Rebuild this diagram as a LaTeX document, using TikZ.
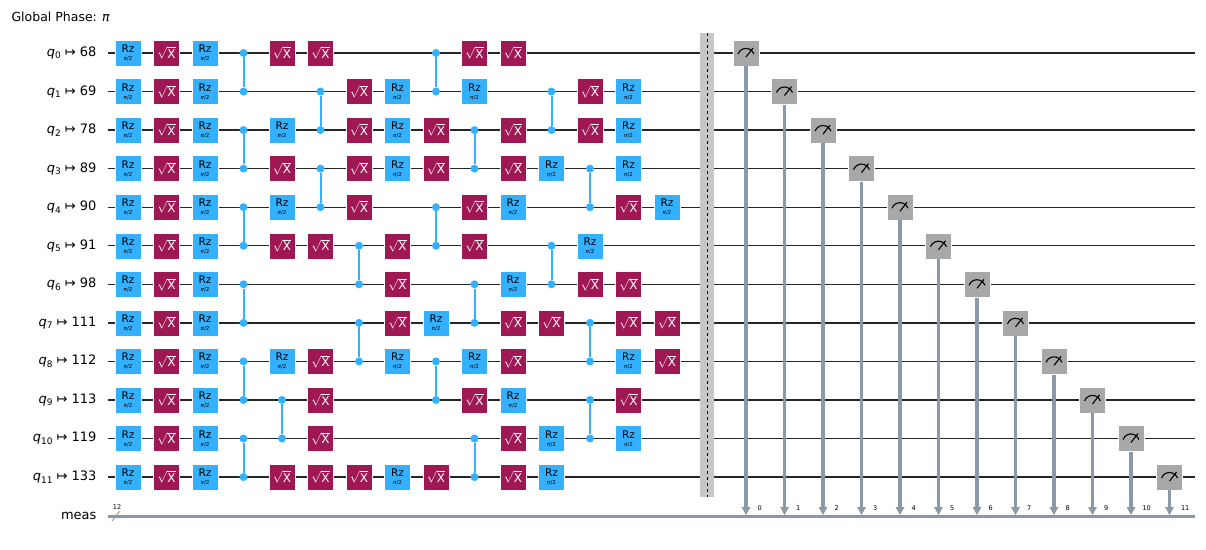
\documentclass[tikz,border=0pt]{standalone}
\usepackage{fontspec}
\setmainfont{DejaVu Sans}
\usetikzlibrary{arrows.meta}
\definecolor{rzblue}{HTML}{33B1FF}
\definecolor{sxred}{HTML}{9F1853}
\definecolor{measgray}{HTML}{A8A8A8}
\definecolor{busgray}{HTML}{8A99A8}
\tikzset{
  gate/.style={minimum size=26pt,inner sep=0pt,draw=white,line width=0.4pt},
  rzgate/.style={gate,fill=rzblue,align=center,font=\fontsize{10.5}{9}\selectfont},
  sxgate/.style={gate,fill=sxred,text=white,font=\fontsize{12}{12}\selectfont},
  czdot/.style={circle,fill=rzblue,inner sep=0pt,minimum size=8pt},
  wire/.style={black!85,line width=1.3pt},
}
% column and row positions
\newcommand{\gpos}[2]{({128+38.5*#1},{53+38.55*#2})}
\newcommand{\rzg}[2]{\node[rzgate] (rz-#1-#2) at \gpos{#1}{#2} {Rz\\[-1pt]{\fontsize{5.5}{5}\selectfont\textit{π}/2}};}
\newcommand{\sxg}[2]{\node[sxgate] (sx-#1-#2) at \gpos{#1}{#2} {$\sqrt{\mathrm{X}}$};}
\newcommand{\czg}[3]{\node[czdot] (cz-#1-#2) at \gpos{#1}{#2} {};
  \node[czdot] (cz-#1-#3) at \gpos{#1}{#3} {};
  \draw[rzblue,line width=2pt] (cz-#1-#2) -- (cz-#1-#3);}
\newcommand{\qlab}[2]{\textit{q}\raisebox{-2.5pt}{\fontsize{9}{9}\selectfont #1} ↦ #2}
\begin{document}
\begin{tikzpicture}[x=1pt,y=-1pt]
\useasboundingbox (0,0) rectangle (1206,549);
\node[anchor=west,font=\fontsize{12.5}{12}\selectfont] (phase) at (8,17) {Global Phase: \textit{π}};
% wires
\foreach \q/\p [count=\r from 0] in {0/68,1/69,2/78,3/89,4/90,5/91,6/98,7/111,8/112,9/113,10/119,11/133} {
  \coordinate (w\r) at (108,{53+38.55*\r});
  \coordinate (e\r) at (1195,{53+38.55*\r});
  \draw[wire] (w\r) -- (e\r);
  \node[anchor=east,font=\fontsize{13}{12}\selectfont] (lab\r) at (100,{53+38.55*\r}) {\qlab{\q}{\p}};
}
% classical bus
\coordinate (mw) at (108,516);
\coordinate (me) at (1195,516);
\draw[busgray,line width=3pt] (mw) -- (me);
\node[anchor=east,font=\fontsize{13}{12}\selectfont] (meas) at (100,516) {meas};
\draw[busgray,line width=0.8pt] (112,521) -- (120,511);
\node[font=\fontsize{6.5}{6}\selectfont] (nbits) at (117,507) {12};
% first layers
\foreach \r in {0,...,11} {
  \rzg{0}{\r} \sxg{1}{\r} \rzg{2}{\r}
}
\czg{3}{0}{1} \czg{3}{2}{3} \czg{3}{4}{5} \czg{3}{6}{7} \czg{3}{8}{9} \czg{3}{10}{11}
% column 4
\sxg{4}{0} \rzg{4}{2} \sxg{4}{3} \rzg{4}{4} \sxg{4}{5} \rzg{4}{8} \czg{4}{9}{10} \sxg{4}{11}
% column 5
\sxg{5}{0} \czg{5}{1}{2} \czg{5}{3}{4} \sxg{5}{5} \sxg{5}{8} \sxg{5}{9} \sxg{5}{10} \sxg{5}{11}
% column 6
\sxg{6}{1} \sxg{6}{2} \sxg{6}{3} \sxg{6}{4} \czg{6}{5}{6} \czg{6}{7}{8} \sxg{6}{11}
% column 7
\rzg{7}{1} \rzg{7}{2} \rzg{7}{3} \sxg{7}{5} \sxg{7}{6} \sxg{7}{7} \rzg{7}{8} \rzg{7}{11}
% column 8
\czg{8}{0}{1} \sxg{8}{2} \sxg{8}{3} \czg{8}{4}{5} \rzg{8}{7} \czg{8}{8}{9} \sxg{8}{11}
% column 9
\sxg{9}{0} \rzg{9}{1} \czg{9}{2}{3} \sxg{9}{4} \sxg{9}{5} \czg{9}{6}{7} \rzg{9}{8} \sxg{9}{9} \czg{9}{10}{11}
% column 10
\sxg{10}{0} \sxg{10}{2} \sxg{10}{3} \rzg{10}{4} \rzg{10}{6} \sxg{10}{7} \sxg{10}{8} \rzg{10}{9} \sxg{10}{10} \sxg{10}{11}
% column 11
\czg{11}{1}{2} \rzg{11}{3} \czg{11}{5}{6} \sxg{11}{7} \rzg{11}{10} \rzg{11}{11}
% column 12
\sxg{12}{1} \sxg{12}{2} \czg{12}{3}{4} \rzg{12}{5} \sxg{12}{6} \czg{12}{7}{8} \czg{12}{9}{10}
% column 13
\rzg{13}{1} \rzg{13}{2} \rzg{13}{3} \sxg{13}{4} \sxg{13}{6} \sxg{13}{7} \rzg{13}{8} \sxg{13}{9} \rzg{13}{10}
% column 14
\rzg{14}{4} \sxg{14}{7} \sxg{14}{8}
% barrier
\fill[black!22] (700,33) rectangle (714,497);
\draw[black,dashed,line width=0.5pt] (707,33) -- (707,497);
% measurements
\foreach \r in {0,...,11} {
  \node[gate,fill=measgray] (m\r) at ({746+38.5*\r},{53+38.55*\r}) {};
  \coordinate (t\r) at ({746+38.5*\r},516);
  \draw[busgray,double=busgray,double distance=1.4pt,line width=1pt] (m\r.south) -- ([yshift=7pt]t\r);
  \fill[busgray] ([yshift=1pt]t\r) -- ([xshift=-4.5pt,yshift=9pt]t\r) -- ([xshift=4.5pt,yshift=9pt]t\r) -- cycle;
  \draw[black,line width=1.1pt] ([xshift=-8pt,yshift=-1pt]m\r.center) arc (160:20:8.5pt);
  \draw[black,line width=1.1pt] ([yshift=-4pt]m\r.center) -- ([xshift=7pt,yshift=5pt]m\r.center);
  \node[anchor=west,font=\fontsize{6.5}{6}\selectfont] (ix\r) at ([xshift=8pt,yshift=8pt]t\r) {\r};
}
\end{tikzpicture}
\end{document}
